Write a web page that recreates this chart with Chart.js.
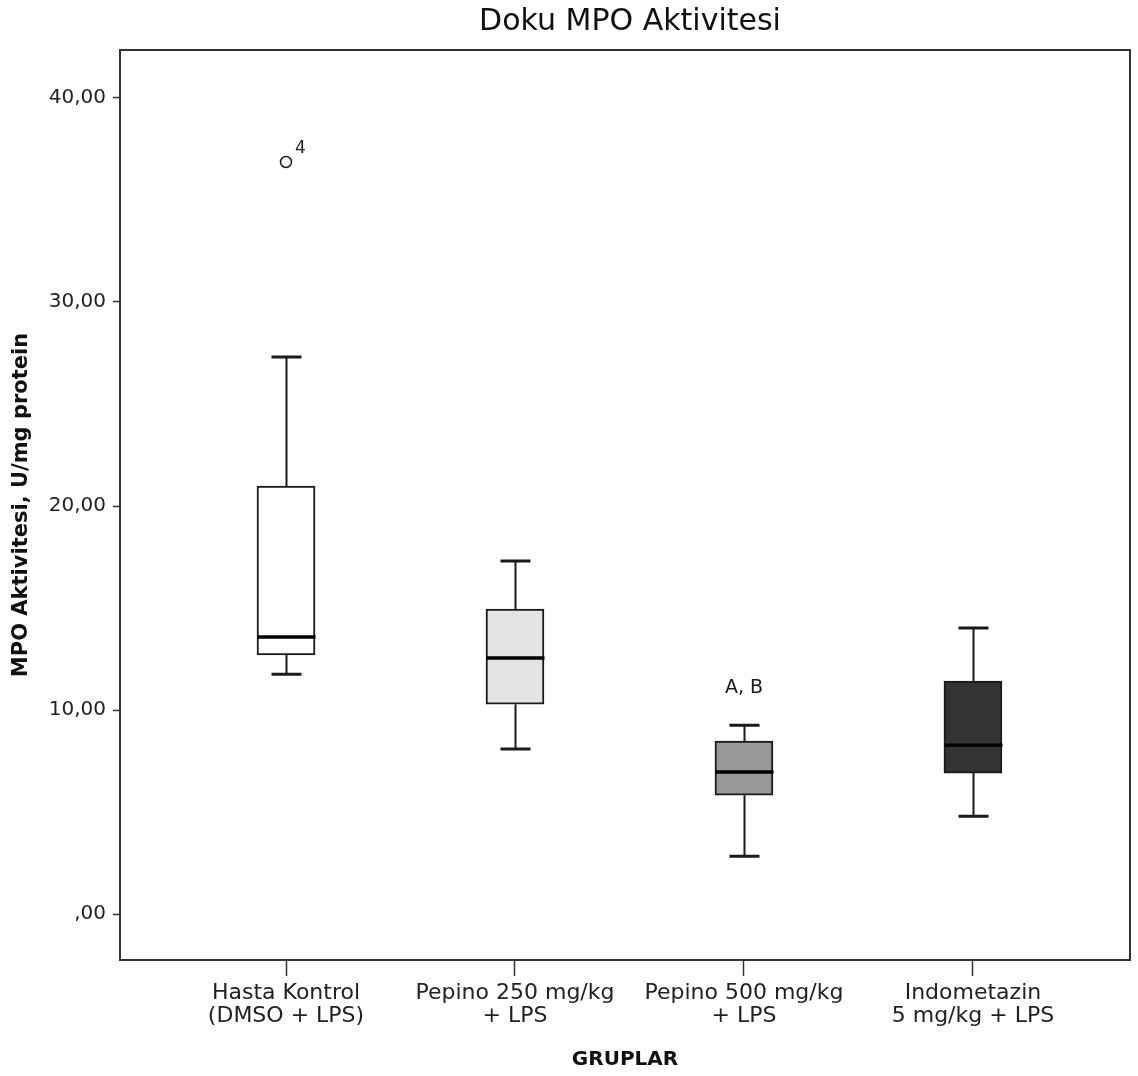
<!DOCTYPE html>
<html>
<head>
<meta charset="utf-8">
<script src="https://cdn.jsdelivr.net/npm/chart.js@4"></script>
<style>
  html, body { margin: 0; padding: 0; background: #fff; }
  #wrap { width: 1138px; height: 1076px; }
</style>
</head>
<body>
<div id="wrap"><canvas id="mpoChart" width="1138" height="1076"></canvas></div>
<script>
// ── Data ──

const groups = [
  ['Hasta Kontrol', '(DMSO + LPS)'],
  ['Pepino 250 mg/kg', '+ LPS'],
  ['Pepino 500 mg/kg', '+ LPS'],
  ['Indometazin', '5 mg/kg + LPS'],
];
const whiskerLow = [11.76, 8.09, 2.84, 4.80];
const q1 = [12.70, 10.29, 5.83, 6.91];
const median = [13.58, 12.55, 6.96, 8.28];
const q3 = [20.98, 14.95, 8.48, 11.42];
const whiskerHigh = [27.30, 17.30, 9.26, 14.02];
const boxFill = ['#ffffff', '#e3e3e3', '#999999', '#333333'];

const outliers = [{ x: 1, y: 36.86, label: '4' }];
const notes = [{ x: 3, y: 11.08, text: 'A, B' }];

const yTicks = [0, 10, 20, 30, 40];
const chartTitle = 'Doku MPO Aktivitesi';

const FONT = "'DejaVu Sans', Verdana, sans-serif";
const INK = '#1a1a1a';

// ── Helpers ──

const fmtComma = v => v === 0 ? ',00' : v.toFixed(2).replace('.', ',');

// whiskers, caps, medians, frame, title and small annotations
const boxExtras = {
  id: 'boxExtras',
  afterDatasetsDraw(chart) {
    const { ctx, scales: { x, y }, chartArea: a } = chart;
    ctx.save();
    ctx.strokeStyle = INK;
    groups.forEach((g, i) => {
      const cx = Math.round(x.getPixelForValue(i + 1)) + 0.5;
      const yLo = y.getPixelForValue(whiskerLow[i]);
      const yHi = y.getPixelForValue(whiskerHigh[i]);
      const y1 = y.getPixelForValue(q1[i]);
      const y3 = y.getPixelForValue(q3[i]);
      const cap = 15;
      ctx.lineWidth = 2;
      ctx.beginPath();
      ctx.moveTo(cx, yHi); ctx.lineTo(cx, y3);
      ctx.moveTo(cx, y1); ctx.lineTo(cx, yLo);
      ctx.stroke();
      ctx.lineWidth = 3;
      ctx.beginPath();
      ctx.moveTo(cx - cap, yHi); ctx.lineTo(cx + cap, yHi);
      ctx.moveTo(cx - cap, yLo); ctx.lineTo(cx + cap, yLo);
      ctx.stroke();
      // median
      const ym = y.getPixelForValue(median[i]);
      ctx.strokeStyle = '#000';
      ctx.lineWidth = 3.5;
      ctx.beginPath();
      ctx.moveTo(cx - 29, ym); ctx.lineTo(cx + 29, ym);
      ctx.stroke();
      ctx.strokeStyle = INK;
    });

    ctx.fillStyle = INK;
    ctx.font = `17px ${FONT}`;
    ctx.textBaseline = 'middle';
    outliers.forEach(o => {
      ctx.textAlign = 'left';
      ctx.fillText(o.label, x.getPixelForValue(o.x) + 9, y.getPixelForValue(o.y) - 13);
    });
    ctx.font = `19px ${FONT}`;
    notes.forEach(n => {
      ctx.textAlign = 'center';
      ctx.fillText(n.text, x.getPixelForValue(n.x), y.getPixelForValue(n.y));
    });

    // plot frame
    ctx.strokeStyle = '#333';
    ctx.lineWidth = 2;
    ctx.strokeRect(a.left, a.top, a.right - a.left, a.bottom - a.top);

    // title, centred a little right of the plot middle as in SPSS output
    ctx.fillStyle = '#111';
    ctx.font = `30px ${FONT}`;
    ctx.textAlign = 'center';
    ctx.textBaseline = 'alphabetic';
    ctx.fillText(chartTitle, (a.left + a.right) / 2 + 5, 30);
    ctx.restore();
  }
};

// ── Chart ──

new Chart(document.getElementById('mpoChart').getContext('2d'), {
  type: 'bar',
  data: {
    datasets: [
      {
        type: 'scatter',
        data: outliers.map(o => ({ x: o.x, y: o.y })),
        pointRadius: 5.5,
        pointBackgroundColor: '#fff',
        pointBorderColor: INK,
        pointBorderWidth: 1.5,
        showLine: false,
      },
      {
        data: groups.map((g, i) => ({ x: i + 1, y: [q1[i], q3[i]] })),
        backgroundColor: boxFill,
        borderColor: INK,
        borderWidth: 2,
        borderSkipped: false,
        barThickness: 58,
      },
    ],
  },
  options: {
    responsive: false,
    animation: false,
    layout: { padding: { left: 0, right: 8, top: 50, bottom: 0 } },
    plugins: {
      legend: { display: false },
      tooltip: { enabled: false },
      title: { display: false },
    },
    scales: {
      x: {
        type: 'linear',
        offset: false,
        min: 0.275,
        max: 4.686,
        afterBuildTicks: s => { s.ticks = [1, 2, 3, 4].map(v => ({ value: v })); },
        afterFit: s => { s.height = 116; },
        grid: { offset: false, drawOnChartArea: false, tickLength: 16, tickColor: '#333', tickWidth: 1.5 },
        border: { color: '#333', width: 2 },
        ticks: {
          color: '#222',
          padding: 6,
          maxRotation: 0,
          autoSkip: false,
          font: { family: FONT, size: 22, lineHeight: 1.05 },
          callback: v => groups[v - 1] || '',
        },
        title: {
          display: true,
          text: 'GRUPLAR',
          color: '#111',
          font: { family: FONT, size: 20, weight: 'bold' },
          padding: { top: 10, bottom: 4 },
        },
      },
      y: {
        min: -2.25,
        max: 42.35,
        afterBuildTicks: s => { s.ticks = yTicks.map(v => ({ value: v })); },
        afterFit: s => { s.width = 120; },
        grid: { drawOnChartArea: false, tickLength: 7, tickColor: '#333', tickWidth: 1.5 },
        border: { color: '#333', width: 2 },
        ticks: {
          color: '#222',
          padding: 7,
          font: { family: FONT, size: 20 },
          callback: v => fmtComma(v),
        },
        title: {
          display: true,
          text: 'MPO Aktivitesi, U/mg protein',
          color: '#111',
          font: { family: FONT, size: 21, weight: 'bold' },
          padding: { top: 9, bottom: 4 },
        },
      },
    },
  },
  plugins: [boxExtras],
});
</script>
</body>
</html>
